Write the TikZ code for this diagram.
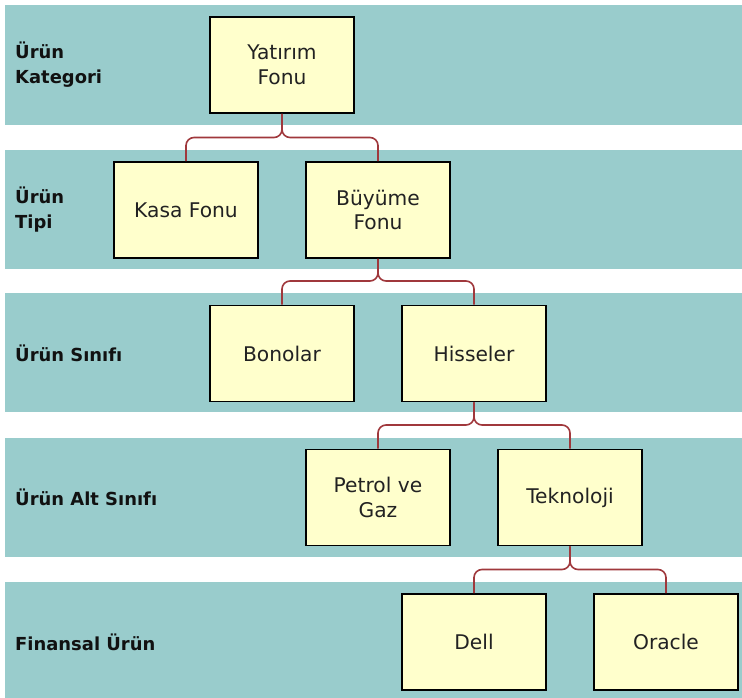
\documentclass[tikz,border=0pt]{standalone}
\usepackage{fontspec}
\setmainfont{DejaVu Sans}
\definecolor{bandc}{HTML}{99CCCC}
\definecolor{boxc}{HTML}{FFFFCC}
\definecolor{linkc}{HTML}{A0383C}
\definecolor{txtc}{HTML}{222222}
\definecolor{lblc}{HTML}{111111}
\tikzset{
  band/.style={fill=bandc, draw=none},
  itembox/.style={draw=black, line width=1.8bp, fill=boxc, minimum width=144bp, minimum height=96bp, inner sep=0pt, align=center, text=txtc, font=\fontsize{20.3}{25}\selectfont},
  levellabel/.style={anchor=west, align=left, inner sep=0pt, text=lblc, font=\fontsize{18}{25}\selectfont\bfseries},
  link/.style={draw=linkc, line width=1.6bp, rounded corners=8bp}
}
\begin{document}
\begin{tikzpicture}[x=1bp, y=-1bp]
\useasboundingbox (0,0) rectangle (742,698);
\fill[white] (0,0) rectangle (742,698);
% bands
\path[band] (5,5) rectangle (742,125);
\path[band] (5,150) rectangle (742,269);
\path[band] (5,293) rectangle (742,412);
\path[band] (5,438) rectangle (742,557);
\path[band] (5,582) rectangle (742,698);
% level labels
\node[levellabel] (l1) at (15,65) {Ürün\\Kategori};
\node[levellabel] (l2) at (15,210) {Ürün\\Tipi};
\node[levellabel] (l3) at (15,353.5) {Ürün Sınıfı};
\node[levellabel] (l4) at (15,497.5) {Ürün Alt Sınıfı};
\node[levellabel] (l5) at (15,642) {Finansal Ürün};
% boxes
\node[itembox] (yat) at (282,65) {Yatırım\\Fonu};
\node[itembox] (kasa) at (186,210) {Kasa Fonu};
\node[itembox] (buy) at (378,210) {Büyüme\\Fonu};
\node[itembox] (bon) at (282,353.5) {Bonolar};
\node[itembox] (his) at (474,353.5) {Hisseler};
\node[itembox] (pet) at (378,497.5) {Petrol ve\\Gaz};
\node[itembox] (tek) at (570,497.5) {Teknoloji};
\node[itembox] (dell) at (474,642) {Dell};
\node[itembox] (ora) at (666,642) {Oracle};
% connectors
\newcommand{\linkto}[3]{\draw[link] (#1.south) -- (#1.south |- 0,#3) -- (#2.north |- 0,#3) -- (#2.north);}
\linkto{yat}{kasa}{137.5}
\linkto{yat}{buy}{137.5}
\linkto{buy}{bon}{281}
\linkto{buy}{his}{281}
\linkto{his}{pet}{425}
\linkto{his}{tek}{425}
\linkto{tek}{dell}{569.5}
\linkto{tek}{ora}{569.5}
\end{tikzpicture}
\end{document}
